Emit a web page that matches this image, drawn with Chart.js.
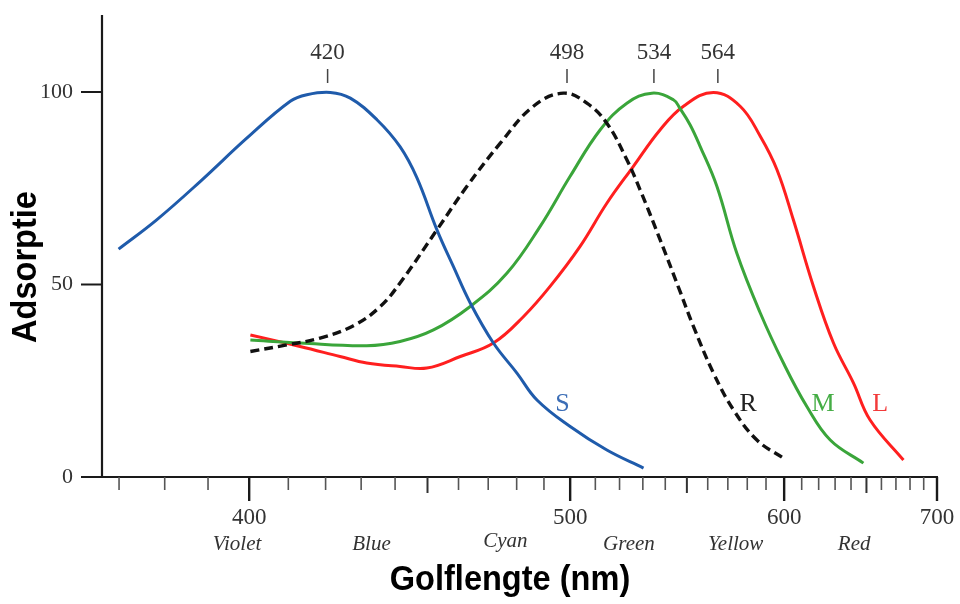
<!DOCTYPE html>
<html><head><meta charset="utf-8">
<script src="https://cdn.jsdelivr.net/npm/chart.js@4"></script>
<style>html,body{margin:0;padding:0;background:#fff}canvas{display:block}</style>
</head><body>
<canvas id="c" width="960" height="604"></canvas>
<script>
// ---- data (wavelength in nm, absorption in %) ----
const sWl  = [369.9, 378.2, 388.2, 399.4, 410.5, 414.9, 421.3, 426.9, 434.6, 441.5, 446.7, 453.0, 458.3, 463.9, 471.8, 480.1, 487.4, 500.0, 514.7, 530.3];
const sVal = [59.2, 66.8, 76.8, 88.0, 97.6, 99.3, 99.9, 98.4, 92.8, 85.8, 77.7, 64.2, 54.7, 45.2, 34.8, 27.0, 20.0, 13.1, 7.0, 2.3];

const rWl  = [400.3, 409.6, 418.5, 427.8, 435.5, 441.5, 453.0, 462.8, 474.2, 486.1, 497.4, 506.6, 514.7, 523.1, 528.8, 537.7, 546.8, 553.1, 562.8, 572.9, 585.1, 599.6];
const rVal = [32.6, 34.3, 36.1, 39.3, 44.2, 50.4, 64.2, 75.5, 86.7, 96.3, 99.7, 97.1, 91.9, 82.4, 74.6, 61.6, 48.2, 39.1, 27.0, 17.4, 9.6, 4.9];

const mWl  = [400.3, 413.1, 431.6, 441.5, 451.9, 463.9, 476.5, 488.6, 500.0, 512.0, 523.1, 534.0, 543.7, 546.8, 551.5, 556.3, 564.5, 574.6, 586.9, 599.6, 613.0, 627.0, 648.0];
const mVal = [35.6, 34.8, 34.1, 35.2, 38.2, 44.3, 52.9, 65.1, 78.1, 90.2, 97.1, 99.7, 98.0, 95.7, 91.5, 85.9, 75.5, 58.1, 42.6, 29.6, 18.3, 9.6, 3.6];

const lWl  = [400.3, 413.1, 424.0, 431.6, 441.5, 449.8, 460.6, 471.8, 482.5, 492.3, 503.9, 514.7, 525.9, 537.7, 548.4, 562.8, 576.3, 586.9, 596.0, 605.2, 616.9, 629.0, 641.6, 652.4, 675.3];
const lVal = [36.9, 33.9, 31.3, 29.6, 28.7, 28.3, 31.3, 34.8, 41.7, 49.5, 59.9, 71.1, 80.7, 90.2, 96.3, 99.9, 96.3, 88.5, 79.8, 66.8, 49.5, 34.8, 24.4, 14.8, 4.4];

// ---- axis ticks & labels ----
const xMajorTicks = [400, 500, 600, 700];
const xMidTicks   = [450, 550, 650];
const xMinorTicks = [370, 380, 390, 410, 420, 430, 440, 460, 470, 480, 490, 510, 520, 530, 540, 560, 570, 580, 590, 610, 620, 630, 640, 660, 670, 680, 690];
const yTicks      = [0, 50, 100];
const colorNames  = ['Violet', 'Blue', 'Cyan', 'Green', 'Yellow', 'Red'];
const colorCenters= [397, 433, 476, 524, 574, 642];
const peakWl      = [420, 498, 534, 564];
const curveNames  = ['S', 'R', 'M', 'L'];
const curveNameWl = [497, 580.5, 622.7, 659.2];
const curveNameY  = [19, 19, 19, 19];
const curveColors = ['#1f5bab', '#111111', '#3aa53a', '#ff1f1f'];
const curveTextColors = ['#3b6db6', '#222222', '#45ad45', '#f23a3a'];
const xTitle = 'Golflengte (nm)';
const yTitle = 'Adsorptie';
const wlMin = 366.4, wlMax = 700;

// x axis is linear in wavenumber (1/λ)
const toX = wl => -1000 / wl;
const pts = (wl, v) => wl.map((w, i) => ({x: toX(w), y: v[i]}));

const SERIF = '"Liberation Serif", "DejaVu Serif", serif';
const SANS = '"Liberation Sans", Arial, sans-serif';

const axesPlugin = {
  id: 'axesDraw',
  beforeDatasetsDraw(chart) {
    const {ctx, chartArea: a, scales: {x, y}} = chart;
    ctx.save();
    ctx.strokeStyle = '#1a1a1a';
    ctx.lineCap = 'butt';
    ctx.lineWidth = 2.2;
    ctx.beginPath();
    ctx.moveTo(a.left, a.top); ctx.lineTo(a.left, a.bottom + 1);
    ctx.moveTo(a.left - 1, a.bottom); ctx.lineTo(a.right + 1, a.bottom);
    ctx.stroke();
    ctx.lineWidth = 2;
    yTicks.forEach(v => {
      const py = y.getPixelForValue(v);
      ctx.beginPath(); ctx.moveTo(a.left - 21, py); ctx.lineTo(a.left, py); ctx.stroke();
    });
    const drawTick = (wl, len, w, col) => {
      const px = x.getPixelForValue(toX(wl));
      ctx.strokeStyle = col; ctx.lineWidth = w;
      ctx.beginPath(); ctx.moveTo(px, a.bottom); ctx.lineTo(px, a.bottom + len); ctx.stroke();
    };
    xMinorTicks.forEach(wl => drawTick(wl, 13, 1.6, '#555'));
    xMidTicks.forEach(wl => drawTick(wl, 16, 2, '#333'));
    xMajorTicks.forEach(wl => drawTick(wl, 24, 2.4, '#1a1a1a'));
    peakWl.forEach(wl => {
      const px = x.getPixelForValue(toX(wl)) + 2;
      ctx.strokeStyle = '#444'; ctx.lineWidth = 1.5;
      ctx.beginPath(); ctx.moveTo(px, 69); ctx.lineTo(px, 83); ctx.stroke();
    });
    ctx.restore();
  },
  afterDatasetsDraw(chart) {
    const {ctx, chartArea: a, scales: {x, y}} = chart;
    ctx.save();
    ctx.fillStyle = '#333';
    ctx.textBaseline = 'middle';
    ctx.font = '22px ' + SERIF;
    ctx.textAlign = 'right';
    yTicks.forEach(v => ctx.fillText(String(v), a.left - 29, y.getPixelForValue(v)));
    ctx.textAlign = 'center';
    ctx.font = '23px ' + SERIF;
    xMajorTicks.forEach(wl => ctx.fillText(String(wl), x.getPixelForValue(toX(wl)), a.bottom + 41));
    ctx.font = 'italic 21px ' + SERIF;
    colorNames.forEach((n, i) => {
      const dy = n === 'Cyan' ? -3 : 0;
      ctx.fillText(n, x.getPixelForValue(toX(colorCenters[i])), a.bottom + 67 + dy);
    });
    ctx.font = '23px ' + SERIF;
    peakWl.forEach(wl => ctx.fillText(String(wl), x.getPixelForValue(toX(wl)) + 2, 53));
    ctx.font = '26px ' + SERIF;
    curveNames.forEach((n, i) => {
      ctx.fillStyle = curveTextColors[i];
      ctx.fillText(n, x.getPixelForValue(toX(curveNameWl[i])), y.getPixelForValue(curveNameY[i]));
    });
    // titles (slightly condensed bold sans)
    ctx.fillStyle = '#000';
    ctx.font = 'bold 35px ' + SANS;
    ctx.save();
    ctx.translate(510, 580);
    ctx.scale(0.93, 1);
    ctx.fillText(xTitle, 0, 0);
    ctx.restore();
    ctx.save();
    ctx.translate(26, 267);
    ctx.rotate(-Math.PI / 2);
    ctx.scale(0.93, 1);
    ctx.fillText(yTitle, 0, 0);
    ctx.restore();
    ctx.restore();
  }
};

const common = {fill: false, pointRadius: 0, borderWidth: 3, tension: 0.4, borderJoinStyle: 'round'};

new Chart(document.getElementById('c'), {
  type: 'line',
  data: {
    datasets: [
      {...common, label: 'S', data: pts(sWl, sVal), borderColor: curveColors[0]},
      {...common, label: 'R', data: pts(rWl, rVal), borderColor: curveColors[1], borderDash: [9, 5], borderWidth: 3.4},
      {...common, label: 'M', data: pts(mWl, mVal), borderColor: curveColors[2]},
      {...common, label: 'L', data: pts(lWl, lVal), borderColor: curveColors[3]}
    ]
  },
  options: {
    responsive: false,
    animation: false,
    devicePixelRatio: 1,
    layout: {padding: {left: 102, right: 23, top: 15, bottom: 127}},
    scales: {
      x: {type: 'linear', display: false, min: toX(wlMin), max: toX(wlMax)},
      y: {type: 'linear', display: false, min: 0, max: 120}
    },
    plugins: {legend: {display: false}, tooltip: {enabled: false}}
  },
  plugins: [axesPlugin]
});
</script>
</body></html>
